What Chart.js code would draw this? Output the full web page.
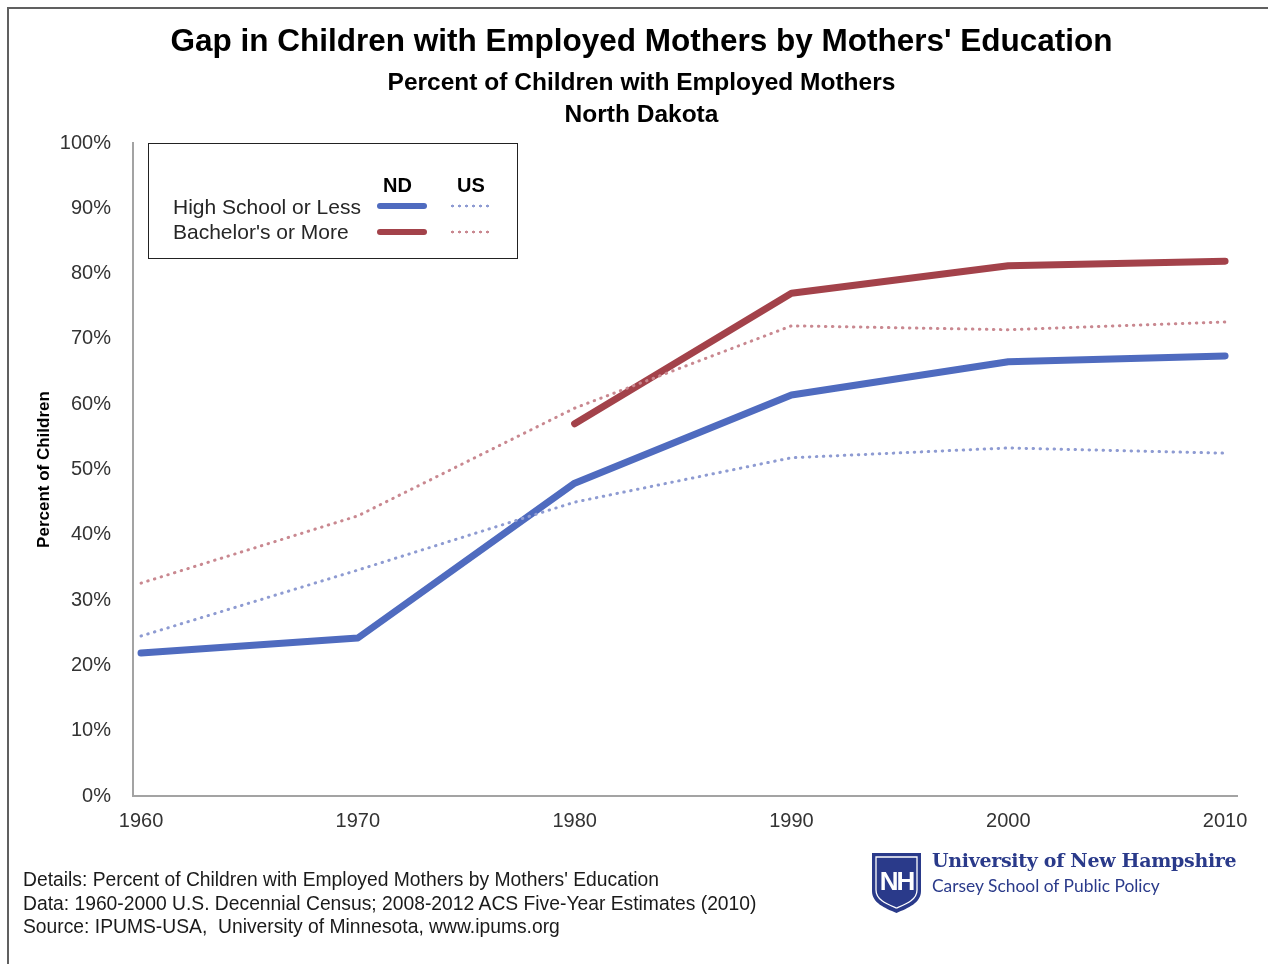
<!DOCTYPE html>
<html>
<head>
<meta charset="utf-8">
<script src="https://cdn.jsdelivr.net/npm/chart.js@4.4.1/dist/chart.umd.min.js"></script>
<style>
  html, body { margin: 0; padding: 0; background: #fff; }
  body { width: 1268px; height: 964px; position: relative; overflow: hidden; font-family: "Liberation Sans", Arial, sans-serif; }
  #frame { position: absolute; left: 7px; top: 7px; width: 1300px; height: 1000px; border-top: 2px solid #606060; border-left: 2px solid #606060; }
  #wrap { position: absolute; left: 0; top: 0; width: 1268px; height: 964px; }
  .title { position: absolute; left: 0; width: 1283px; text-align: center; font-weight: bold; color: #000; line-height: 1; white-space: nowrap; }
  #legend { position: absolute; left: 148px; top: 143px; width: 368px; height: 114px; border: 1.5px solid #222; background: #fff; }
  .lg { position: absolute; line-height: 1; white-space: nowrap; color: #262626; }
  .solid { position: absolute; height: 6px; border-radius: 3px; }
  .dots { position: absolute; height: 4px; background-repeat: repeat-x; background-size: 7px 4px; }
  #footer { position: absolute; left: 23px; top: 868px; font-size: 19.3px; line-height: 23.5px; color: #1a1a1a; white-space: nowrap; }
  #unh1 { position: absolute; left: 932px; top: 851px; font-family: "DejaVu Serif", serif; font-weight: bold; font-size: 19px; color: #2a3a8a; white-space: nowrap; line-height: 1; letter-spacing: -0.3px; }
  #unh2 { position: absolute; left: 932px; top: 877px; font-family: "Lato", sans-serif; font-size: 17.4px; color: #2a3a8a; white-space: nowrap; line-height: 1; }
  #shield { position: absolute; left: 872px; top: 853px; }
</style>
</head>
<body>
<div id="wrap"><canvas id="myChart" width="1268" height="964"></canvas></div>
<div id="frame"></div>

<div class="title" style="top:25px;font-size:31.5px;">Gap in Children with Employed Mothers by Mothers' Education</div>
<div class="title" style="top:70px;font-size:24.5px;">Percent of Children with Employed Mothers</div>
<div class="title" style="top:102px;font-size:24.5px;">North Dakota</div>

<div id="legend">
  <div class="lg" style="left:234px;top:31px;font-size:20px;font-weight:bold;color:#000;">ND</div>
  <div class="lg" style="left:308px;top:31px;font-size:20px;font-weight:bold;color:#000;">US</div>
  <div class="lg" style="left:24px;top:52px;font-size:21px;">High School or Less</div>
  <div class="lg" style="left:24px;top:77px;font-size:21px;">Bachelor's or More</div>
  <div class="solid" id="lgNdHs" style="left:228px;top:59px;width:50px;"></div>
  <div class="solid" id="lgNdBa" style="left:228px;top:85px;width:50px;"></div>
  <div class="dots" id="lgUsHs" style="left:300px;top:60px;width:44px;"></div>
  <div class="dots" id="lgUsBa" style="left:300px;top:86px;width:44px;"></div>
</div>

<div id="footer">
  Details: Percent of Children with Employed Mothers by Mothers' Education<br>
  Data: 1960-2000 U.S. Decennial Census; 2008-2012 ACS Five-Year Estimates (2010)<br>
  Source: IPUMS-USA,&nbsp; University of Minnesota, www.ipums.org
</div>

<svg id="shield" width="49" height="60" viewBox="0 0 49 60">
  <path d="M0 0 H49 V38 C49 50 36 55 24.5 60 C13 55 0 50 0 38 Z" fill="#2a3a8a"/>
  <path d="M4 4 H45 V37 C45 47 34 51 24.5 55 C15 51 4 47 4 37 Z" fill="none" stroke="#fff" stroke-width="1.3"/>
  <text x="24.5" y="37" text-anchor="middle" font-family="Liberation Sans Narrow, Liberation Sans, sans-serif" font-weight="bold" font-size="26" fill="#fff" letter-spacing="-2">NH</text>
</svg>
<div id="unh1">University of New Hampshire</div>
<div id="unh2">Carsey School of Public Policy</div>

<script>
// values (percent of children)
const years = [1960, 1970, 1980, 1990, 2000, 2010];
const ndHighSchool = [21.9, 24.2, 47.9, 61.4, 66.5, 67.4];
const ndBachelors = [null, null, 57.0, 77.0, 81.2, 81.9];
const usHighSchool = [24.5, 34.6, 45.0, 51.8, 53.3, 52.5];
const usBachelors = [32.6, 42.9, 59.4, 72.0, 71.4, 72.6];
const yTicks = [0, 10, 20, 30, 40, 50, 60, 70, 80, 90, 100];

const blue = '#4f6bbf';
const red = '#a3424a';
const blueDots = '#8e9bd2';
const redDots = '#c98890';

document.getElementById('lgNdHs').style.background = blue;
document.getElementById('lgNdBa').style.background = red;
document.getElementById('lgUsHs').style.backgroundImage = 'radial-gradient(circle, ' + blueDots + ' 1.2px, transparent 1.7px)';
document.getElementById('lgUsBa').style.backgroundImage = 'radial-gradient(circle, ' + redDots + ' 1.2px, transparent 1.7px)';

const toPoints = (vals) => years.map((yr, i) => ({ x: yr, y: vals[i] }));

const ctx = document.getElementById('myChart');

new Chart(ctx, {
    type: 'line',
    data: {
        datasets: [{
            label: 'US High School or Less',
            data: toPoints(usHighSchool),
            borderColor: blueDots,
            borderWidth: 3,
            borderDash: [0.5, 6.5],
            borderCapStyle: 'round',
            pointRadius: 0,
        }, {
            label: "US Bachelor's or More",
            data: toPoints(usBachelors),
            borderColor: redDots,
            borderWidth: 3,
            borderDash: [0.5, 6.5],
            borderCapStyle: 'round',
            pointRadius: 0,
        }, {
            label: 'ND High School or Less',
            data: toPoints(ndHighSchool),
            borderColor: blue,
            borderWidth: 7,
            borderCapStyle: 'round',
            borderJoinStyle: 'round',
            pointRadius: 0,
        }, {
            label: "ND Bachelor's or More",
            data: toPoints(ndBachelors),
            borderColor: red,
            borderWidth: 7,
            borderCapStyle: 'round',
            borderJoinStyle: 'round',
            pointRadius: 0,
        }]
    },
    options: {
        responsive: false,
        animation: false,
        layout: {
            padding: { top: 143, left: 0, right: 31, bottom: 0 }
        },
        plugins: {
            legend: { display: false },
            tooltip: { enabled: false }
        },
        scales: {
            x: {
                type: 'linear',
                min: 1959.63,
                max: 2010.55,
                afterBuildTicks: (scale) => {
                    scale.ticks = years.map(v => ({ value: v }));
                },
                afterFit: (scale) => { scale.height = 168; },
                grid: { display: false, drawTicks: false },
                border: { display: true, color: '#a3a3a3', width: 2 },
                ticks: {
                    padding: 13,
                    color: '#333',
                    font: { family: 'Liberation Sans', size: 20 },
                    callback: (v) => String(v),
                    maxRotation: 0,
                    autoSkip: false
                }
            },
            y: {
                min: 0,
                max: 100,
                afterBuildTicks: (scale) => {
                    scale.ticks = yTicks.map(v => ({ value: v }));
                },
                afterFit: (scale) => { scale.width = 133; },
                grid: { display: false, drawTicks: false },
                border: { display: true, color: '#a3a3a3', width: 2 },
                ticks: {
                    padding: 22,
                    color: '#333',
                    font: { family: 'Liberation Sans', size: 20 },
                    callback: (v) => v + '%'
                },
                title: {
                    display: true,
                    text: 'Percent of Children',
                    color: '#000',
                    font: { family: 'Liberation Sans', size: 17, weight: 'bold' },
                    padding: { top: 34, bottom: 0 }
                }
            }
        }
    }
});
</script>
</body>
</html>
